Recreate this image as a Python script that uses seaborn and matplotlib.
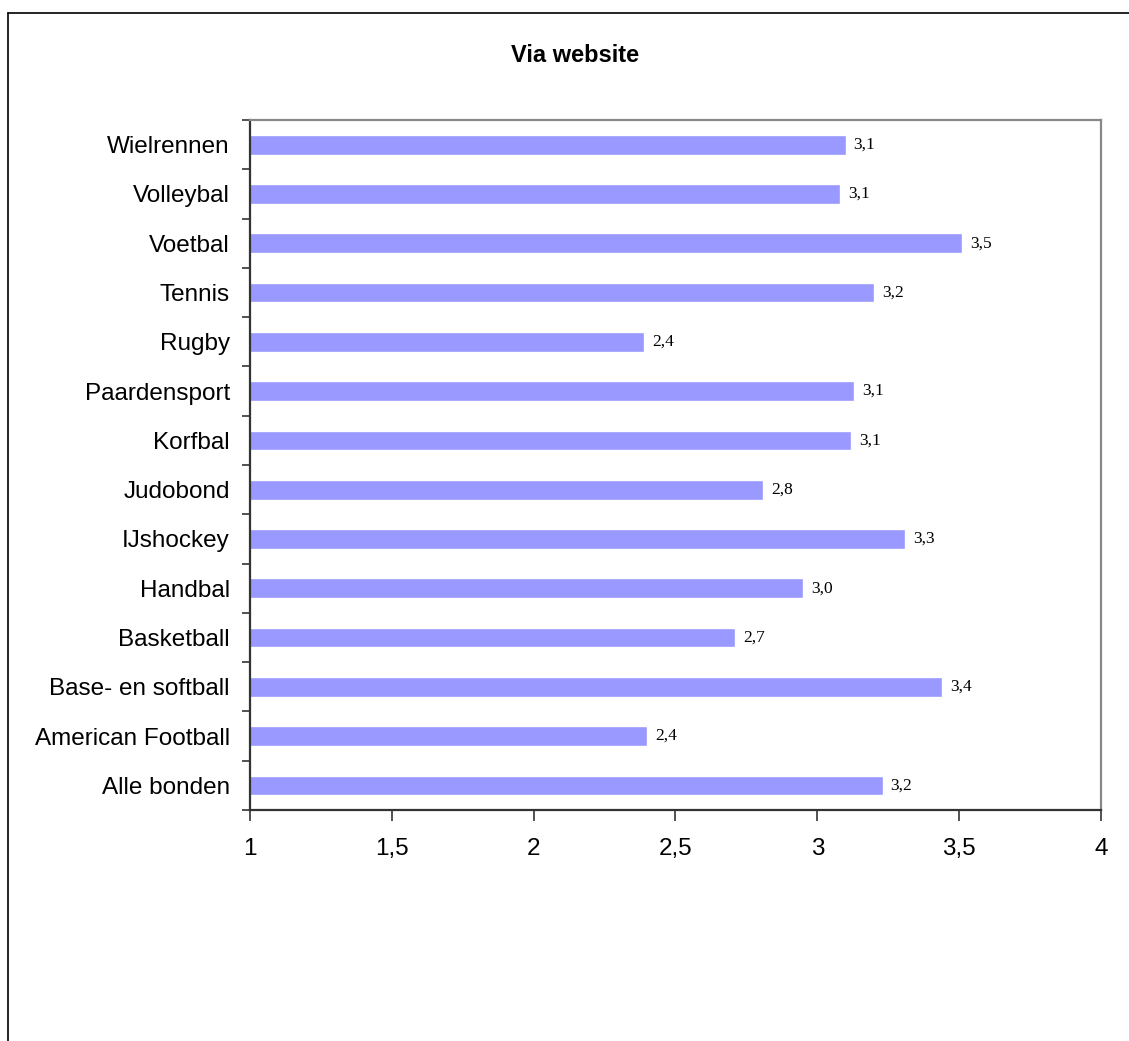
import matplotlib.pyplot as plt
from matplotlib.lines import Line2D
import seaborn as sns

# Sports federations, top to bottom as in the chart
sports = ['Wielrennen', 'Volleybal', 'Voetbal', 'Tennis', 'Rugby',
          'Paardensport', 'Korfbal', 'Judobond', 'IJshockey', 'Handbal',
          'Basketball', 'Base- en softball', 'American Football', 'Alle bonden']
scores = [3.10, 3.08, 3.51, 3.20, 2.39, 3.13, 3.12, 2.81, 3.31, 2.95,
          2.71, 3.44, 2.40, 3.23]
x_ticks = [1, 1.5, 2, 2.5, 3, 3.5, 4]
x_tick_labels = ['1', '1,5', '2', '2,5', '3', '3,5', '4']

sns.set_style('white')
plt.rcParams['font.family'] = ['Liberation Sans', 'DejaVu Sans']
plt.rcParams['text.color'] = 'black'
plt.rcParams['xtick.color'] = 'black'
plt.rcParams['ytick.color'] = 'black'

fig = plt.figure(figsize=(11.29, 10.41), dpi=100)
ax = fig.add_axes([0.2214, 0.2219, 0.7538, 0.6628])

sns.barplot(x=scores, y=sports, orient='h', color='#9999FF',
            width=0.4, saturation=1, ax=ax)

ax.set_xlim(1, 4)
ax.set_ylim(len(sports) - 0.5, -0.5)

# value labels in a serif font with Dutch decimal comma
for i, v in enumerate(scores):
    ax.text(v + 0.028, i, f'{v:.1f}'.replace('.', ','), va='center', ha='left',
            fontsize=12.5, color='black',
            family=['Liberation Serif', 'DejaVu Serif'])

# x axis
ax.set_xticks(x_ticks)
ax.set_xticklabels(x_tick_labels, fontsize=17.5)
ax.tick_params(axis='x', direction='out', length=8, width=1.2,
               color='#333333', pad=12, bottom=True)

# y axis: labels at bar centres, tick marks on the boundaries
ax.set_yticks(range(len(sports)))
ax.set_yticklabels(sports, fontsize=17.5)
ax.set_yticks([i - 0.5 for i in range(len(sports) + 1)], minor=True)
ax.tick_params(axis='y', which='major', length=0, pad=14.5)
ax.tick_params(axis='y', which='minor', direction='out', length=6,
               width=1.2, color='#333333', left=True)
ax.set_xlabel('')
ax.set_ylabel('')

for side in ['left', 'bottom']:
    ax.spines[side].set_color('#333333')
    ax.spines[side].set_linewidth(1.6)
for side in ['top', 'right']:
    ax.spines[side].set_color('#888888')
    ax.spines[side].set_linewidth(1.6)

fig.text(0.5093, 1 - 56 / 1041, 'Via website', ha='center', va='center',
         fontsize=17, fontweight='bold')

# outer frame (top and left edges only, as in the original export)
fig.add_artist(Line2D([0.0071, 1.0], [0.9875, 0.9875], color='black', lw=1.2,
                      transform=fig.transFigure))
fig.add_artist(Line2D([0.0071, 0.0071], [0.0, 0.9875], color='black', lw=1.2,
                      transform=fig.transFigure))

fig.savefig('out.png', dpi=100)
